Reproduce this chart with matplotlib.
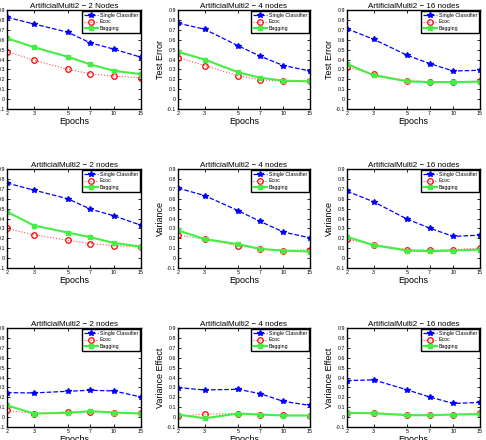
import numpy as np
import matplotlib
matplotlib.use('Agg')
import matplotlib.pyplot as plt

plt.rcParams['font.family'] = ['Liberation Sans', 'DejaVu Sans']

epochs = [2, 3, 5, 7, 10, 15]

# test error
te_single = [[0.826, 0.759, 0.675, 0.568, 0.504, 0.423],
             [0.767, 0.706, 0.539, 0.434, 0.339, 0.284],
             [0.710, 0.604, 0.441, 0.359, 0.284, 0.291]]
te_ecoc = [[0.480, 0.393, 0.300, 0.256, 0.232, 0.215],
           [0.420, 0.339, 0.237, 0.196, 0.179, 0.179],
           [0.325, 0.250, 0.186, 0.176, 0.176, 0.180]]
te_bag = [[0.615, 0.524, 0.427, 0.350, 0.286, 0.252],
          [0.478, 0.400, 0.271, 0.216, 0.186, 0.179],
          [0.356, 0.240, 0.179, 0.172, 0.172, 0.176]]

# variance
var_single = [[0.758, 0.687, 0.599, 0.495, 0.427, 0.332],
              [0.707, 0.632, 0.480, 0.371, 0.263, 0.205],
              [0.676, 0.568, 0.392, 0.303, 0.219, 0.232]]
var_ecoc = [[0.299, 0.234, 0.180, 0.147, 0.126, 0.113],
            [0.232, 0.192, 0.124, 0.093, 0.076, 0.086],
            [0.188, 0.137, 0.086, 0.080, 0.086, 0.100]]
var_bag = [[0.468, 0.329, 0.258, 0.211, 0.153, 0.116],
           [0.280, 0.192, 0.141, 0.093, 0.076, 0.066],
           [0.215, 0.130, 0.076, 0.070, 0.076, 0.086]]

# variance effect
ve_single = [[0.247, 0.244, 0.261, 0.271, 0.264, 0.203],
             [0.298, 0.274, 0.281, 0.237, 0.159, 0.118],
             [0.369, 0.376, 0.274, 0.203, 0.138, 0.148]]
ve_ecoc = [[0.067, 0.036, 0.053, 0.053, 0.046, 0.043],
           [0.009, 0.029, 0.036, 0.026, 0.022, 0.016],
           [0.043, 0.043, 0.026, 0.022, 0.026, 0.043]]
ve_bag = [[0.118, 0.036, 0.043, 0.060, 0.046, 0.036],
          [0.026, -0.012, 0.036, 0.026, 0.016, 0.016],
          [0.043, 0.039, 0.019, 0.019, 0.026, 0.029]]

titles = ['ArtificialMulti2 \u2212 2 Nodes', 'ArtificialMulti2 \u2212 4 nodes', 'ArtificialMulti2 \u2212 16 nodes',
          'ArtificialMulti2 \u2212 2 nodes', 'ArtificialMulti2 \u2212 4 nodes', 'ArtificialMulti2 \u2212 16 nodes',
          'ArtificialMulti2 \u2212 2 nodes', 'ArtificialMulti2 \u2212 4 nodes', 'ArtificialMulti2 \u2212 16 nodes']
ylabels = ['Test Error', 'Variance', 'Variance Effect']
rows = [(te_single, te_ecoc, te_bag), (var_single, var_ecoc, var_bag), (ve_single, ve_ecoc, ve_bag)]

W, H = 486, 440
fig = plt.figure(figsize=(W / 100, H / 100), dpi=100)

col_left = [7, 178, 347]
col_w = [134, 132, 133]
row_top = [10, 169, 328]
ax_h = 99

for r in range(3):
    single, ecoc, bag = rows[r]
    for c in range(3):
        ax = fig.add_axes([col_left[c] / W, 1 - (row_top[r] + ax_h) / H, col_w[c] / W, ax_h / H])
        ax.plot(epochs, single[c], '--', color='blue', marker='*', markersize=4, lw=0.9,
                label='Single Classifier')
        ax.plot(epochs, ecoc[c], ':', color='#ff5050', marker='o', markersize=4, mfc='none',
                mec='red', mew=0.9, lw=0.8, label='Ecoc')
        ax.plot(epochs, bag[c], '-', color='#44ee44', marker='s', markersize=3.5, lw=1.5,
                label='Bagging')
        ax.set_xscale('log')
        ax.set_xlim(2, 15)
        ax.set_ylim(-0.1, 0.9)
        ax.set_xticks(epochs)
        ax.set_xticklabels([str(e) for e in epochs])
        ax.minorticks_off()
        ax.set_yticks(np.arange(-0.1, 0.91, 0.1))
        ax.set_yticklabels(['-0.1', '0', '0.1', '0.2', '0.3', '0.4', '0.5', '0.6', '0.7', '0.8', '0.9'])
        ax.tick_params(direction='in', length=2, width=0.6, labelsize=3.8, pad=1.5,
                       top=True, right=True)
        for s in ax.spines.values():
            s.set_linewidth(1.0)
        ax.set_title(titles[r * 3 + c], fontsize=5.8, pad=1.5)
        ax.set_xlabel('Epochs', fontsize=6.5, labelpad=1)
        ax.set_ylabel(ylabels[r], fontsize=6.5, labelpad=1)
        leg = ax.legend(loc='upper right', fontsize=3.8, fancybox=False, framealpha=1,
                        edgecolor='black', borderaxespad=0.25, handlelength=2.6,
                        borderpad=0.3, labelspacing=0.3, handletextpad=0.4)
        leg.get_frame().set_linewidth(1.0)

fig.savefig('out.png', dpi=100)
